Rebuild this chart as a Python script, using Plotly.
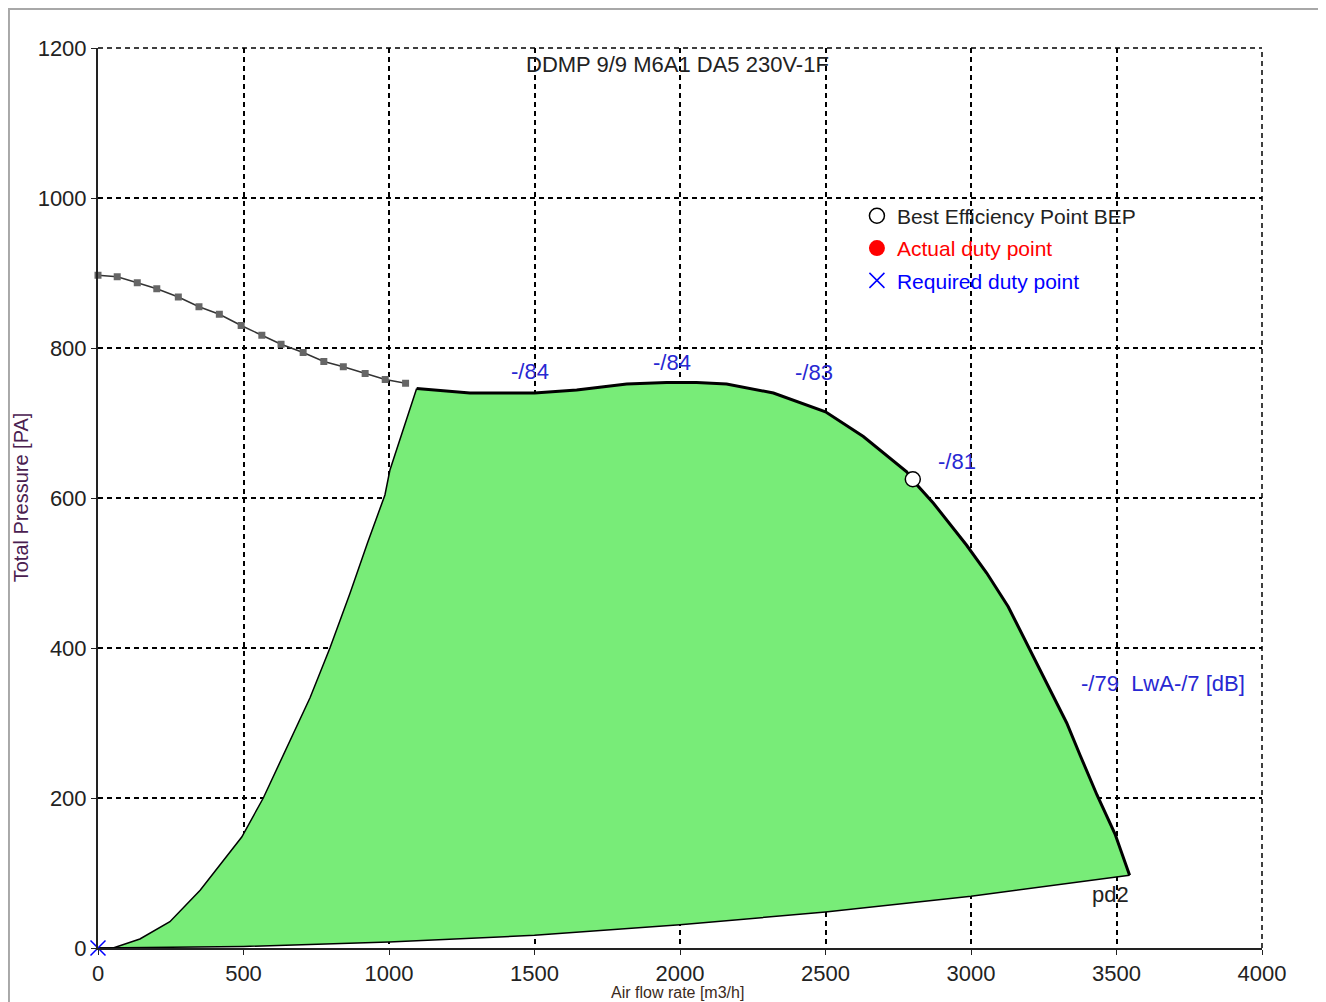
import plotly.graph_objects as go

# ---- data ----
# fan curve at low flow (grey line with square markers)
stall_x = [0, 66, 135, 202, 276, 347, 417, 492, 563, 629, 705, 776, 843, 918, 987, 1057]
stall_y = [897, 895, 887, 879, 868, 855, 845, 830, 817, 805, 794, 782, 775, 766, 758, 753]

# operating fan curve (thick black)
fan_x = [1095, 1278, 1500, 1645, 1817, 1954, 2057, 2160, 2321, 2500, 2630, 2779, 2797, 2871,
         2985, 3054, 3128, 3197, 3237, 3329, 3375, 3433, 3495, 3545]
fan_y = [746, 740, 740, 744, 752, 754, 754, 752, 740, 715, 682, 635, 625, 593,
         537, 500, 455, 402, 371, 300, 257, 204, 152, 97]

# left boundary of operating area
left_x = [0, 52, 144, 247, 351, 494, 568, 648, 729, 797, 866, 926, 986, 1003, 1095]
left_y = [0, 0, 12, 35, 77, 148, 200, 266, 334, 400, 473, 540, 604, 637, 746]

# system curve (bottom boundary)
sys_x = [0, 500, 1000, 1500, 2000, 2500, 3000, 3545]
sys_y = [0, 2, 8, 17, 31, 48, 69, 97]

# special points
bep_x, bep_y = [2800], [625]
req_x, req_y = [0], [0]

# sound labels
lbl_x = [1485, 1973, 2460, 2952, 3660]
lbl_y = [769, 781, 767, 649, 353]
lbl_t = ["-/84", "-/84", "-/83", "-/81", "-/79  LwA-/7 [dB]"]
pd2_x, pd2_y = 3481, 71

title_text = "DDMP 9/9 M6A1 DA5 230V-1F"
x_title = "Air flow rate [m3/h]"
y_title = "Total Pressure [PA]"
x_ticks = [0, 500, 1000, 1500, 2000, 2500, 3000, 3500, 4000]
y_ticks = [0, 200, 400, 600, 800, 1000, 1200]

FONT = "Liberation Sans, Arial, sans-serif"
DASH = "5px,4px"
fig = go.Figure()

# green operating area
poly_x = left_x + fan_x + sys_x[::-1]
poly_y = left_y + fan_y + sys_y[::-1]
fig.add_trace(go.Scatter(x=poly_x, y=poly_y, fill="toself", fillcolor="rgb(120,236,120)",
                         line=dict(width=0), mode="lines", showlegend=False, hoverinfo="skip"))
fig.add_trace(go.Scatter(x=left_x, y=left_y, mode="lines", line=dict(color="black", width=1.5),
                         showlegend=False))
fig.add_trace(go.Scatter(x=sys_x, y=sys_y, mode="lines", line=dict(color="black", width=1.5),
                         showlegend=False))
fig.add_trace(go.Scatter(x=stall_x, y=stall_y, mode="lines+markers",
                         line=dict(color="#333", width=1.5),
                         marker=dict(symbol="square", size=7, color="#666"), showlegend=False,
                         cliponaxis=False))
fig.add_trace(go.Scatter(x=fan_x, y=fan_y, mode="lines", line=dict(color="black", width=3),
                         showlegend=False))

# legend entries / points
fig.add_trace(go.Scatter(x=bep_x, y=bep_y, mode="markers",
                         marker=dict(symbol="circle", size=15, color="white",
                                     line=dict(color="black", width=1.5)),
                         name="Best Efficiency Point BEP", legendgroup="a"))
fig.add_trace(go.Scatter(x=[None], y=[None], mode="markers",
                         marker=dict(symbol="circle", size=17, color="red"),
                         name='<span style="color:red">Actual duty point</span>', legendgroup="b"))
fig.add_trace(go.Scatter(x=req_x, y=req_y, mode="markers", cliponaxis=False,
                         marker=dict(symbol="x-thin", size=15, color="blue",
                                     line=dict(color="blue", width=1.5)),
                         name='<span style="color:blue">Required duty point</span>', legendgroup="c"))

annotations = []
for x, y, t in zip(lbl_x, lbl_y, lbl_t):
    annotations.append(dict(x=x, y=y, text=t, showarrow=False, xanchor="center", yanchor="middle",
                            font=dict(family=FONT, size=22, color="rgb(40,40,210)")))
annotations.append(dict(x=pd2_x, y=pd2_y, text="pd2", showarrow=False, xanchor="center",
                        yanchor="middle", font=dict(family=FONT, size=22, color="#222")))
annotations.append(dict(x=0.498, y=0.982, xref="paper", yref="paper", text=title_text,
                        showarrow=False, xanchor="center", yanchor="middle",
                        font=dict(family=FONT, size=22, color="#222")))
annotations.append(dict(x=0.498, y=-0.0495, xref="paper", yref="paper", text=x_title,
                        showarrow=False, xanchor="center", yanchor="middle",
                        font=dict(family=FONT, size=16, color="#3a2a20")))
annotations.append(dict(x=-0.066, y=0.501, xref="paper", yref="paper", text=y_title,
                        showarrow=False, xanchor="center", yanchor="middle", textangle=-90,
                        font=dict(family=FONT, size=20, color="#4a2050")))

axis_common = dict(showgrid=True, gridcolor="black", griddash=DASH, gridwidth=1.5,
                   showline=True, linecolor="#222", linewidth=2, ticks="outside",
                   ticklen=5, tickcolor="#222", zeroline=False,
                   tickfont=dict(family=FONT, size=22, color="#222"))

# page body has an 8px margin: figure is 1318x994 so the plot lands where the reference has it
fig.update_layout(
    width=1318, height=994,
    margin=dict(l=90, r=64, t=40, b=54),
    paper_bgcolor="white", plot_bgcolor="white",
    xaxis=dict(range=[0, 4000], tickvals=x_ticks, **axis_common),
    yaxis=dict(range=[0, 1200], tickvals=y_ticks, **axis_common),
    legend=dict(x=0.652, y=0.836, xanchor="left", yanchor="top", bgcolor="rgba(0,0,0,0)",
                font=dict(family=FONT, size=21, color="#222"), tracegroupgap=2,
                itemwidth=30),
    annotations=annotations,
    shapes=[
        dict(type="rect", xref="paper", yref="paper", x0=-0.0765, x1=1.0533,
             y0=-0.08, y1=1.0433, line=dict(color="#a8a8a8", width=2), layer="below"),
        # edge grid lines (top and right) that plotly omits at the range ends
        dict(type="line", xref="paper", yref="paper", x0=1, x1=1, y0=0, y1=1,
             line=dict(color="black", width=1.5, dash=DASH), layer="below"),
        dict(type="line", xref="paper", yref="paper", x0=0, x1=1, y0=1, y1=1,
             line=dict(color="black", width=1.5, dash=DASH), layer="below"),
    ],
    showlegend=True,
)

fig.write_html("out.html")
